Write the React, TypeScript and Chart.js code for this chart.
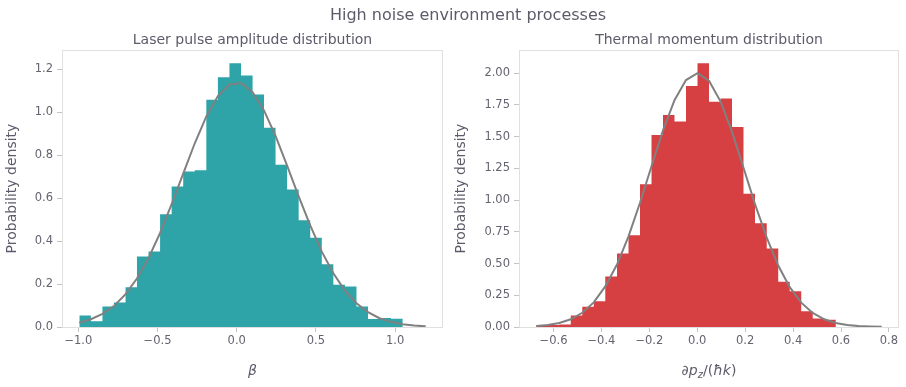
import React, { useEffect, useRef } from "react";
import { Chart, registerables } from "chart.js";

Chart.register(...registerables);

// ---------- data ----------
// Left panel: laser pulse amplitude (beta)
const leftBinEdges = [
  -0.994, -0.921, -0.848, -0.775, -0.702, -0.63, -0.557, -0.484, -0.411, -0.338,
  -0.265, -0.192, -0.119, -0.046, 0.027, 0.1, 0.172, 0.245, 0.318, 0.391,
  0.464, 0.537, 0.61, 0.683, 0.756, 0.829, 0.901, 0.974, 1.047, 1.12, 1.193,
];
const leftDensity = [
  0.054, 0.027, 0.095, 0.114, 0.185, 0.329, 0.352, 0.525, 0.655, 0.725,
  0.73, 1.059, 1.163, 1.229, 1.172, 1.083, 0.928, 0.756, 0.641, 0.497,
  0.416, 0.292, 0.197, 0.189, 0.095, 0.037, 0.042, 0.038, 0, 0,
];
const leftFit = [
  0.02, 0.036, 0.061, 0.098, 0.153, 0.226, 0.321, 0.438, 0.572, 0.715,
  0.856, 0.981, 1.076, 1.13, 1.137, 1.094, 1.009, 0.89, 0.752, 0.609,
  0.473, 0.351, 0.25, 0.17, 0.111, 0.069, 0.041, 0.024, 0.013, 0.007, 0.003,
];
const leftXTicks = [-1.0, -0.5, 0.0, 0.5, 1.0];
const leftXTickLabels = ["\u22121.0", "\u22120.5", "0.0", "0.5", "1.0"];
const leftYTicks = [0, 0.2, 0.4, 0.6, 0.8, 1.0, 1.2];
const leftYTickLabels = ["0.0", "0.2", "0.4", "0.6", "0.8", "1.0", "1.2"];

// Right panel: thermal momentum
const rightBinEdges = [
  -0.672, -0.624, -0.576, -0.528, -0.48, -0.432, -0.384, -0.335, -0.287, -0.239,
  -0.191, -0.143, -0.095, -0.047, 0.001, 0.049, 0.097, 0.145, 0.193, 0.241,
  0.29, 0.338, 0.386, 0.434, 0.482, 0.53, 0.578, 0.626, 0.674, 0.722, 0.77,
];
const rightDensity = [
  0.015, 0.015, 0.02, 0.09, 0.16, 0.203, 0.397, 0.579, 0.724, 1.125,
  1.513, 1.67, 1.62, 1.9, 2.079, 1.775, 1.8, 1.577, 1.05, 0.818,
  0.619, 0.357, 0.282, 0.124, 0.067, 0.058, 0, 0, 0, 0,
];
const rightFit = [
  0.007, 0.015, 0.032, 0.061, 0.112, 0.194, 0.32, 0.492, 0.714, 0.979,
  1.267, 1.549, 1.787, 1.946, 2.0, 1.941, 1.778, 1.538, 1.255, 0.968,
  0.704, 0.484, 0.314, 0.192, 0.111, 0.061, 0.031, 0.015, 0.007, 0.003, 0.001,
];
const rightXTicks = [-0.6, -0.4, -0.2, 0.0, 0.2, 0.4, 0.6, 0.8];
const rightXTickLabels = ["\u22120.6", "\u22120.4", "\u22120.2", "0.0", "0.2", "0.4", "0.6", "0.8"];
const rightYTicks = [0, 0.25, 0.5, 0.75, 1.0, 1.25, 1.5, 1.75, 2.0];
const rightYTickLabels = ["0.00", "0.25", "0.50", "0.75", "1.00", "1.25", "1.50", "1.75", "2.00"];

// ---------- style ----------
const FONT = "'DejaVu Sans', 'Liberation Sans', sans-serif";
const TEXT = "#5e5a6a";
const TICK_TEXT = "#66626f";
const SPINE = "#e0e0e0";
const TICK_MARK = "#c4c4c4";
const FIT_COLOR = "#808080";

type Seg = { t: string; italic?: boolean; sub?: boolean };

type PanelCfg = {
  edges: number[];
  density: number[];
  fit: number[];
  xTicks: number[];
  xLabels: string[];
  yTicks: number[];
  yLabels: string[];
  color: string;
  title: string;
  xTitle: Seg[];
  yTitleX: number;
  yAxisWidth: number;
  padRight: number;
};

function labelFor(v: number, ticks: number[], labels: string[]) {
  for (let i = 0; i < ticks.length; i++) {
    if (Math.abs(ticks[i] - v) < 1e-9) return labels[i];
  }
  return "";
}

function makeChart(canvas: HTMLCanvasElement, cfg: PanelCfg) {
  const lo = cfg.edges[0];
  const hi = cfg.edges[cfg.edges.length - 1];
  const margin = (hi - lo) * 0.05;
  const ymax = Math.max(...cfg.density) * 1.05;

  const histPoints = cfg.edges.map((e, i) => ({
    x: e,
    y: i < cfg.density.length ? cfg.density[i] : 0,
  }));
  const fitPoints = cfg.edges.map((e, i) => ({ x: e, y: cfg.fit[i] }));

  const decor = {
    id: "decor",
    afterDraw(chart: any) {
      const { ctx, chartArea: a } = chart;
      ctx.save();
      // frame
      ctx.strokeStyle = SPINE;
      ctx.lineWidth = 1;
      ctx.strokeRect(
        Math.round(a.left) + 0.5,
        Math.round(a.top) + 0.5,
        Math.round(a.right - a.left) - 1,
        Math.round(a.bottom - a.top)
      );
      const cx = (a.left + a.right) / 2;
      // subplot title
      ctx.fillStyle = TEXT;
      ctx.font = `14px ${FONT}`;
      ctx.textAlign = "center";
      ctx.textBaseline = "alphabetic";
      ctx.fillText(cfg.title, cx, 44.3);
      // y title
      ctx.save();
      ctx.translate(cfg.yTitleX, (a.top + a.bottom) / 2);
      ctx.rotate(-Math.PI / 2);
      ctx.textBaseline = "middle";
      ctx.fillText("Probability density", 0, 0);
      ctx.restore();
      // x title (math-like segments)
      const segFont = (s: Seg) =>
        `${s.italic ? "italic " : ""}${s.sub ? 10 : 14}px ${FONT}`;
      let total = 0;
      const widths = cfg.xTitle.map((s) => {
        ctx.font = segFont(s);
        const w = ctx.measureText(s.t).width;
        total += w;
        return w;
      });
      let x = cx - total / 2;
      ctx.textAlign = "left";
      ctx.textBaseline = "alphabetic";
      cfg.xTitle.forEach((s, i) => {
        ctx.font = segFont(s);
        ctx.fillText(s.t, x, s.sub ? 378 : 375);
        x += widths[i];
      });
      ctx.restore();
    },
  };

  return new Chart(canvas, {
    type: "line",
    data: {
      datasets: [
        {
          data: fitPoints,
          borderColor: FIT_COLOR,
          borderWidth: 2,
          pointRadius: 0,
          tension: 0,
          fill: false,
          order: 0,
        } as any,
        {
          data: histPoints,
          borderWidth: 0,
          borderColor: "rgba(0,0,0,0)",
          backgroundColor: cfg.color,
          pointRadius: 0,
          stepped: "before",
          fill: "origin",
          order: 1,
        } as any,
      ],
    },
    options: {
      responsive: false,
      animation: false,
      events: [],
      devicePixelRatio: 1,
      layout: { padding: { top: 50, right: cfg.padRight, left: 0, bottom: 0 } },
      plugins: {
        legend: { display: false },
        tooltip: { enabled: false },
        title: { display: false },
      },
      scales: {
        x: {
          type: "linear",
          min: lo - margin,
          max: hi + margin,
          afterBuildTicks: (s: any) => {
            s.ticks = cfg.xTicks.map((v) => ({ value: v }));
          },
          afterFit: (s: any) => {
            s.height = 60;
          },
          grid: {
            display: true,
            drawOnChartArea: false,
            drawTicks: true,
            tickLength: 5,
            color: TICK_MARK,
            lineWidth: 1,
          },
          border: { display: false },
          ticks: {
            color: TICK_TEXT,
            font: { size: 11.5, family: FONT },
            padding: 2,
            maxRotation: 0,
            autoSkip: false,
            callback: (v: any) => labelFor(Number(v), cfg.xTicks, cfg.xLabels),
          },
        },
        y: {
          type: "linear",
          min: 0,
          max: ymax,
          afterBuildTicks: (s: any) => {
            s.ticks = cfg.yTicks.map((v) => ({ value: v }));
          },
          afterFit: (s: any) => {
            s.width = cfg.yAxisWidth;
          },
          grid: {
            display: true,
            drawOnChartArea: false,
            drawTicks: true,
            tickLength: 5,
            color: TICK_MARK,
            lineWidth: 1,
          },
          border: { display: false },
          ticks: {
            color: TICK_TEXT,
            font: { size: 11.5, family: FONT },
            padding: 4,
            autoSkip: false,
            callback: (v: any) => labelFor(Number(v), cfg.yTicks, cfg.yLabels),
          },
        },
      },
    } as any,
    plugins: [decor],
  });
}

const LEFT: PanelCfg = {
  edges: leftBinEdges,
  density: leftDensity,
  fit: leftFit,
  xTicks: leftXTicks,
  xLabels: leftXTickLabels,
  yTicks: leftYTicks,
  yLabels: leftYTickLabels,
  color: "#2ea3a8",
  title: "Laser pulse amplitude distribution",
  xTitle: [{ t: "\u03b2", italic: true }],
  yTitleX: 12.7,
  yAxisWidth: 62,
  padRight: 5,
};

const RIGHT: PanelCfg = {
  edges: rightBinEdges,
  density: rightDensity,
  fit: rightFit,
  xTicks: rightXTicks,
  xLabels: rightXTickLabels,
  yTicks: rightYTicks,
  yLabels: rightYTickLabels,
  color: "#d64043",
  title: "Thermal momentum distribution",
  xTitle: [
    { t: "\u2202" },
    { t: "p", italic: true },
    { t: "z", italic: true, sub: true },
    { t: "/(" },
    { t: "\u0127k", italic: true },
    { t: ")" },
  ],
  yTitleX: 13.7,
  yAxisWidth: 71,
  padRight: 7,
};

export default function App() {
  const leftRef = useRef<HTMLCanvasElement>(null);
  const rightRef = useRef<HTMLCanvasElement>(null);

  useEffect(() => {
    document.body.style.margin = "0";
    Chart.defaults.font.family = FONT;
    const c1 = makeChart(leftRef.current as HTMLCanvasElement, LEFT);
    const c2 = makeChart(rightRef.current as HTMLCanvasElement, RIGHT);
    return () => {
      c1.destroy();
      c2.destroy();
    };
  }, []);

  return (
    <div
      style={{
        position: "relative",
        width: 906,
        height: 387,
        background: "#ffffff",
        overflow: "hidden",
      }}
    >
      <canvas
        ref={leftRef}
        width={448}
        height={387}
        style={{ position: "absolute", left: 0, top: 0, width: 448, height: 387 }}
      />
      <canvas
        ref={rightRef}
        width={458}
        height={387}
        style={{ position: "absolute", left: 448, top: 0, width: 458, height: 387 }}
      />
      <div
        style={{
          position: "absolute",
          left: 468,
          top: 6.5,
          transform: "translateX(-50%)",
          whiteSpace: "nowrap",
          fontFamily: FONT,
          fontSize: 16,
          lineHeight: "16px",
          color: TEXT,
        }}
      >
        High noise environment processes
      </div>
    </div>
  );
}
